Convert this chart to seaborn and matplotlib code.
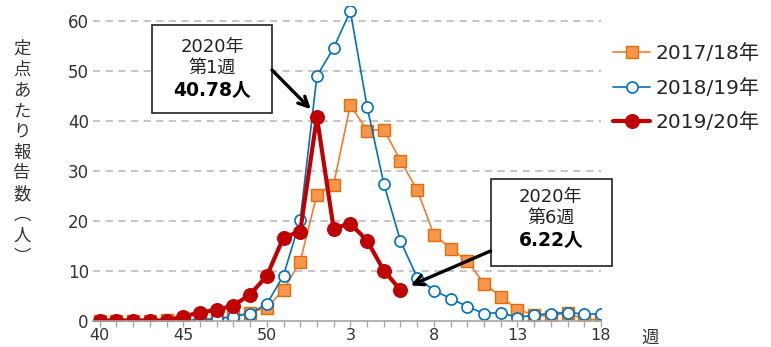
import numpy as np
import pandas as pd
import seaborn as sns
import matplotlib.pyplot as plt
from matplotlib.patches import Rectangle

# weeks of the season (week 40 .. week 52, then week 1 .. week 18)
weeks = list(range(40, 53)) + list(range(1, 19))

s1718 = [0.1, 0.1, 0.1, 0.1, 0.2, 0.2, 0.3, 0.6, 0.9, 1.7, 2.7, 6.2, 11.9,
         25.3, 27.3, 43.2, 38.1, 38.3, 32.1, 26.2, 17.3, 14.5, 12.0, 7.5, 4.9,
         2.3, 1.2, 0.9, 1.7, 0.3, 0.3]
s1819 = [0.1, 0.1, 0.1, 0.1, 0.1, 0.1, 0.2, 0.4, 0.9, 1.5, 3.4, 9.1, 20.2,
         49.0, 54.6, 62.0, 42.9, 27.5, 16.0, 8.7, 6.1, 4.5, 2.9, 1.5, 1.7,
         0.7, 1.2, 1.5, 1.7, 1.4, 1.4]
s1920 = [0.1, 0.1, 0.1, 0.1, 0.1, 0.9, 1.7, 2.2, 3.1, 5.3, 9.0, 16.7, 17.9,
         40.78, 18.5, 19.5, 16.1, 10.1, 6.22]

labels = ['2017/18年', '2018/19年', '2019/20年']
shown_weeks = [40, 45, 50, 3, 8, 13, 18]

df = pd.DataFrame({'pos': np.arange(len(weeks)), 'week': weeks,
                   's1718': s1718, 's1819': s1819,
                   's1920': s1920 + [np.nan] * (len(weeks) - len(s1920))})

sns.set_style('white')
plt.rcParams['font.family'] = ['DejaVu Sans', 'Noto Sans CJK JP']

fig = plt.figure(figsize=(7.71, 3.47), dpi=100)
ax = fig.add_axes([93 / 771, 26 / 347, 508 / 771, 315 / 347])

sns.lineplot(data=df, x='pos', y='s1718', ax=ax, color='#ED7D31', lw=1.2,
             marker='s', markersize=8, markerfacecolor='#F5964A',
             markeredgecolor='#E46C0A', markeredgewidth=1, label=labels[0])
sns.lineplot(data=df, x='pos', y='s1819', ax=ax, color='#0070C0', lw=1.2,
             marker='o', markersize=8, markerfacecolor='white',
             markeredgecolor='#0070C0', markeredgewidth=1.2, label=labels[1])
sns.lineplot(data=df.dropna(), x='pos', y='s1920', ax=ax, color='#C00000', lw=3,
             marker='o', markersize=10, markerfacecolor='#C00000',
             markeredgecolor='#C00000', label=labels[2])

ax.set_xlim(-0.4, 30.0)
ax.set_ylim(0, 63)
ax.set_yticks(range(0, 61, 10))
ax.set_xticks(df['pos'])
ax.set_xticklabels([str(w) if w in shown_weeks else '' for w in weeks])
ax.tick_params(axis='x', length=4, width=1, color='#A6A6A6', pad=1,
               labelsize=11.5, labelcolor='#333333', direction='out', bottom=True)
ax.tick_params(axis='y', length=0, pad=3, labelsize=12, labelcolor='#333333')
ax.set_xlabel('')
ax.set_ylabel('')
for y in range(10, 61, 10):
    ax.axhline(y, color='#C0C0C0', lw=1.3, ls=(0, (4, 3)), zorder=0)
for side in ['left', 'top', 'right']:
    ax.spines[side].set_visible(False)
ax.spines['bottom'].set_color('#A6A6A6')
ax.spines['bottom'].set_linewidth(1.2)

# legend outside the plot on the right
ax.legend(loc='upper left', bbox_to_anchor=(605 / 771, 311 / 347),
          bbox_transform=fig.transFigure, frameon=False, fontsize=14.5,
          handlelength=1.85, handletextpad=0.25, labelspacing=0.78,
          borderaxespad=0)

# y label, stacked vertically
fig.text(22 / 771, 0.56, '\n'.join('定点あたり報告数︵人︶'), ha='center',
         va='center', fontsize=12.5, linespacing=1.2, color='#333333',
         family='Noto Sans CJK JP')
fig.text(650 / 771, 9 / 347, '週', ha='center', va='center', fontsize=12.5,
         color='#333333', family='Noto Sans CJK JP')

# callout boxes
def callout(x0, y0, w, h, xc, ys, lines, tail, pt):
    ax.add_patch(Rectangle((x0, y0), w, h, facecolor='white', edgecolor='#222222',
                           lw=1.2, zorder=5, clip_on=False))
    ax.text(xc, ys[0], lines[0], ha='center', va='center', fontsize=13,
            color='#222222', zorder=6, clip_on=False)
    ax.text(xc, ys[1], lines[1], ha='center', va='center', fontsize=13,
            color='#222222', zorder=6, clip_on=False)
    ax.text(xc, ys[2], lines[2], ha='center', va='center', fontsize=13.5,
            fontweight='bold', color='black', zorder=6, clip_on=False)
    ax.annotate('', xy=pt, xytext=tail, zorder=6,
                arrowprops=dict(arrowstyle='->,head_length=0.7,head_width=0.35',
                                color='black', lw=2.4, shrinkA=0, shrinkB=8))

callout(3.13, 41.6, 7.18, 17.6, 6.72, (54.8, 50.6, 46.0),
        ('2020年', '第1週', f'{s1920[13]:.2f}人'), (10.31, 50.2), (13.1, s1920[13]))
callout(23.39, 11.0, 7.27, 17.5, 27.0, (24.8, 20.6, 16.2),
        ('2020年', '第6週', f'{s1920[18]:.2f}人'), (23.39, 14.0), (18, s1920[18]))

fig.savefig('out.png', dpi=100)
